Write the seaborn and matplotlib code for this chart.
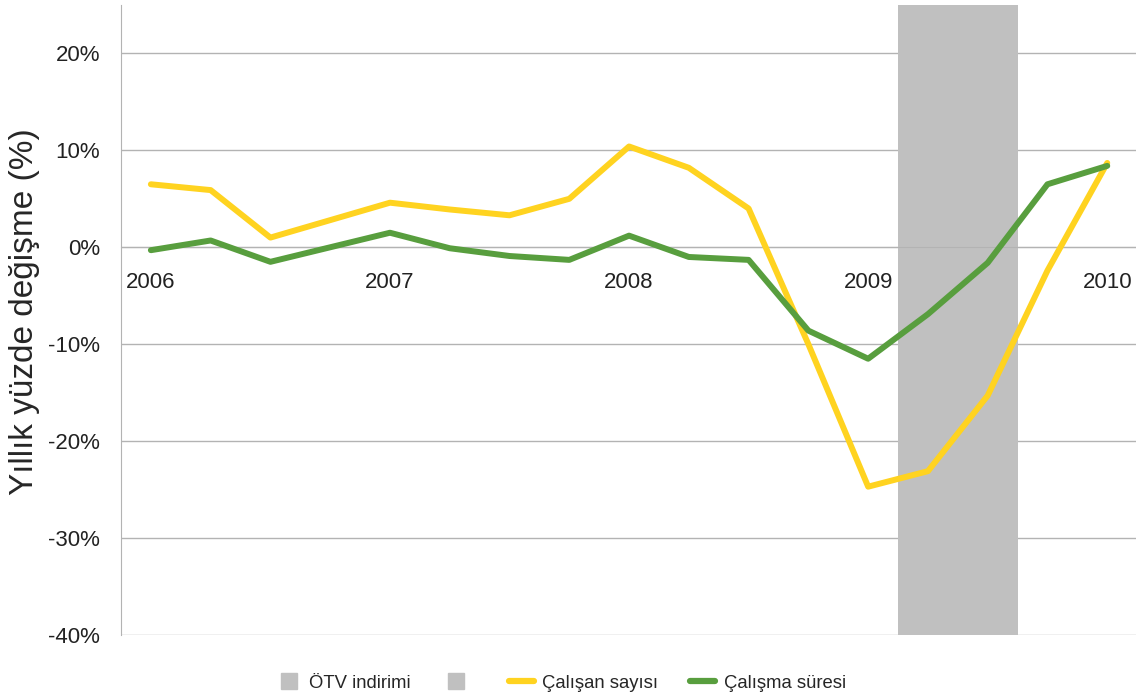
import matplotlib
matplotlib.use('Agg')
import numpy as np
import pandas as pd
import seaborn as sns
import matplotlib.pyplot as plt
from matplotlib.lines import Line2D

# Çeyreklik veriler (2006Ç1 - 2010Ç1)
ceyrekler = ['2006', '', '', '', '2007', '', '', '', '2008', '', '', '',
             '2009', '', '', '', '2010']
calisan_sayisi = [6.5, 5.9, 1.0, 2.8, 4.6, 3.9, 3.3, 5.0, 10.4, 8.2, 4.0,
                  -10.0, -24.7, -23.1, -15.3, -2.4, 8.7]
calisma_suresi = [-0.3, 0.7, -1.5, 0.0, 1.5, -0.1, -0.9, -1.3, 1.2, -1.0, -1.3,
                  -8.6, -11.5, -6.9, -1.6, 6.5, 8.4]
otv_ust = [0, 0, 0, 0, 0, 0, 0, 0, 0, 0, 0, 0, 0, 25, 25, 0, 0]
otv_alt = [0, 0, 0, 0, 0, 0, 0, 0, 0, 0, 0, 0, 0, -40, -40, 0, 0]

sari = '#ffd320'
yesil = '#589e3e'
gri = '#c0c0c0'

sns.set_style('white')
plt.rcParams['font.family'] = ['Liberation Sans', 'DejaVu Sans']

df = pd.DataFrame({'i': np.arange(len(ceyrekler)),
                   'calisan': calisan_sayisi,
                   'sure': calisma_suresi})

fig = plt.figure(figsize=(11.36, 7.0), dpi=100)
ax = fig.add_axes([0.1065, 0.0929, 0.8945, 0.9])

# ÖTV indirimi dönemi (gri sütunlar)
ax.bar(df['i'], otv_ust, width=1.0, color=gri, linewidth=0, zorder=1)
ax.bar(df['i'], otv_alt, width=1.0, color=gri, linewidth=0, zorder=1)

sns.lineplot(data=df, x='i', y='calisan', ax=ax, color=sari, linewidth=4.3, zorder=3)
sns.lineplot(data=df, x='i', y='sure', ax=ax, color=yesil, linewidth=4.3, zorder=4)

ax.set_xlim(-0.5, len(ceyrekler) - 0.5)
ax.set_ylim(-40, 25)

yt = [-40, -30, -20, -10, 0, 10, 20]
ax.set_yticks(yt)
ax.set_yticklabels([f'{v}%' for v in yt], fontsize=16, color='#222222')
ax.yaxis.grid(True, color='#b3b3b3', linewidth=1, zorder=0)
ax.set_axisbelow(True)
ax.tick_params(axis='y', length=8, color='#b3b3b3', direction='out', pad=7)

# X ekseni sıfır çizgisinde
ax.spines['bottom'].set_position(('data', 0))
ax.spines['bottom'].set_color('#b3b3b3')
ax.spines['left'].set_color('#b3b3b3')
ax.spines['top'].set_visible(False)
ax.spines['right'].set_visible(False)
ax.set_xticks(np.arange(-0.5, len(ceyrekler), 1.0))
ax.set_xticklabels([])
ax.tick_params(axis='x', which='major', length=8, color='#b3b3b3', direction='out')
yil_pos = [i for i, c in enumerate(ceyrekler) if c]
ax.set_xticks(yil_pos, minor=True)
ax.set_xticklabels([ceyrekler[i] for i in yil_pos], minor=True, fontsize=16, color='#222222')
ax.tick_params(axis='x', which='minor', length=0, pad=18)

ax.set_xlabel('')
ax.set_ylabel('Yıllık yüzde değişme (%)', fontsize=24)
ax.yaxis.set_label_coords(-0.0797, 0.5135)

handles = [Line2D([], [], marker='s', color=gri, linestyle='none', markersize=12),
           Line2D([], [], marker='s', color=gri, linestyle='none', markersize=12),
           Line2D([], [], color=sari, linewidth=4.5),
           Line2D([], [], color=yesil, linewidth=4.5)]
labels = ['ÖTV indirimi', '', 'Çalışan sayısı', 'Çalışma süresi']
fig.legend(handles, labels, loc='center', bbox_to_anchor=(0.4938, 0.024), ncol=4,
           frameon=False, fontsize=13.3, handlelength=1.35, columnspacing=1.75,
           handletextpad=0.45)

plt.savefig('out.png', dpi=100)
